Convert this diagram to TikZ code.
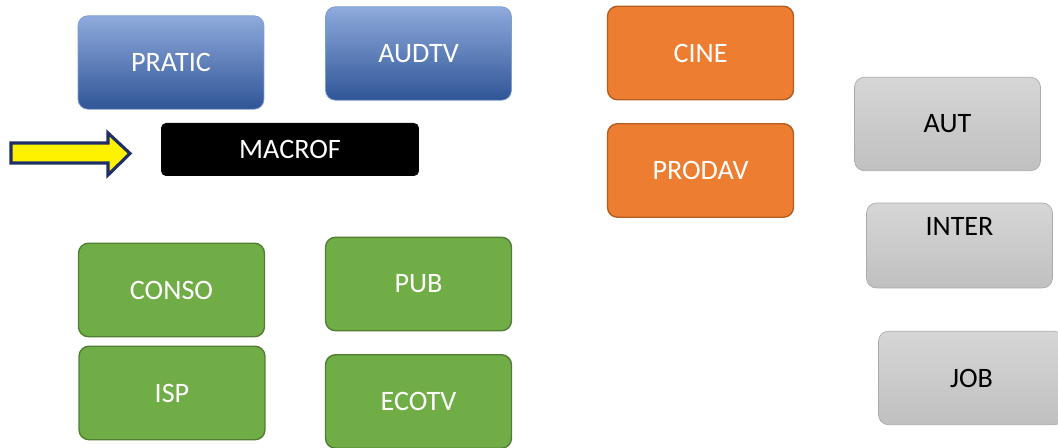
\documentclass[tikz,border=0pt]{standalone}
\usepackage{fontspec}
\setmainfont{Carlito}
\definecolor{blueTop}{HTML}{8FAADC}
\definecolor{blueMid}{HTML}{4472C4}
\definecolor{blueBot}{HTML}{2F5597}
\definecolor{orangeFill}{HTML}{ED7D31}
\definecolor{orangeLine}{HTML}{B25D22}
\definecolor{greenFill}{HTML}{70AD47}
\definecolor{greenLine}{HTML}{507E32}
\definecolor{grayTop}{HTML}{D6D6D6}
\definecolor{grayBot}{HTML}{C0C0C0}
\definecolor{grayLine}{HTML}{ABABAB}
\definecolor{navy}{HTML}{1F2F66}
\begin{document}
\begin{tikzpicture}[x=0.02cm, y=-0.02cm,
    box/.style={rectangle, rounded corners=0.2cm, minimum width=3.72cm, minimum height=1.87cm,
      inner sep=0pt, font=\fontsize{16}{19}\selectfont},
    bluebox/.style={box, top color=blueTop, middle color=blueMid, bottom color=blueBot,
      draw=blueMid!70, text=white},
    orangebox/.style={box, fill=orangeFill, draw=orangeLine, line width=0.8pt, text=white},
    greenbox/.style={box, fill=greenFill, draw=greenLine, line width=0.8pt, text=white},
    graybox/.style={box, top color=grayTop, bottom color=grayBot, draw=grayLine, text=black}]
  \useasboundingbox (0,0) rectangle (1058,448);
  % blue boxes
  \node[bluebox] (pratic) at (171,62.5) {PRATIC};
  \node[bluebox] (audtv) at (418.5,53.5) {AUDTV};
  % black box and the arrow pointing at it
  \node[box, fill=black, text=white, minimum width=5.16cm, minimum height=1.06cm,
    rounded corners=0.1cm] (macrof) at (290,149.5) {MACROF};
  \draw[navy, line width=1.8pt, fill=yellow, line join=miter]
    (11,143) -- (108,143) -- (108,133) -- (130,153.5) -- (108,175) -- (108,163) -- (11,163) -- cycle;
  % orange boxes
  \node[orangebox] (cine) at (700.5,53) {CINE};
  \node[orangebox] (prodav) at (700.5,170.5) {PRODAV};
  % gray boxes
  \node[graybox] (aut) at (947.5,124) {AUT};
  \node[graybox, minimum height=1.7cm, text depth=0.76cm] (inter) at (959.5,245.5) {INTER};
  \node[graybox] (job) at (971.5,378) {JOB};
  % green boxes
  \node[greenbox] (conso) at (171.5,290) {CONSO};
  \node[greenbox] (isp) at (172,393) {ISP};
  \node[greenbox] (pub) at (418.5,284) {PUB};
  \node[greenbox] (ecotv) at (418.5,401.5) {ECOTV};
\end{tikzpicture}
\end{document}
